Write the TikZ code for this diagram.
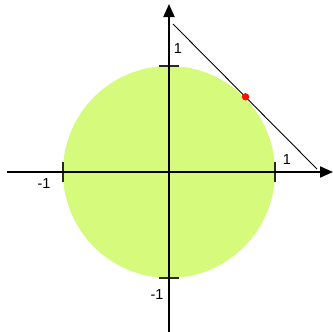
\documentclass[tikz,border=0pt]{standalone}
\usepackage{fontspec}
\setmainfont{Liberation Sans}
\usetikzlibrary{arrows.meta}
\definecolor{disk}{RGB}{214,250,124}
\definecolor{tickc}{RGB}{40,40,40}
\tikzset{
  axis/.style={line width=1.8pt,-{Triangle[length=13pt,width=11pt]}},
  tickmark/.style={line width=1.1pt,draw=tickc},
  lbl/.style={font=\fontsize{14.5}{16}\selectfont,inner sep=0pt},
}
\begin{document}
\begin{tikzpicture}[x=1pt,y=-1pt]
\useasboundingbox (0,0) rectangle (333,332);
\fill[disk] (169,172) circle (106);
% ticks
\draw[tickmark] (159,66) -- (179,66);
\draw[tickmark] (159,278) -- (179,278);
\draw[tickmark] (63,162) -- (63,182);
\draw[tickmark] (275,162) -- (275,182);
% axes
\coordinate (xs) at (7,172);
\coordinate (xe) at (333,172);
\coordinate (ys) at (169,332);
\coordinate (ye) at (169,4);
\draw[axis] (xs) -- (xe);
\draw[axis] (ys) -- (ye);
% tangent line
\coordinate (ta) at (173,24);
\coordinate (tb) at (317,169);
\draw[line width=0.9pt] (ta) -- (tb);
\fill[red!90!orange] (245.5,96.8) circle (3.7);
% labels
\node[lbl] (l1) at (178,49) {1};
\node[lbl] (r1) at (287,160) {1};
\node[lbl] (lm) at (44,184) {-1};
\node[lbl] (bm) at (157,295) {-1};
\end{tikzpicture}
\end{document}
